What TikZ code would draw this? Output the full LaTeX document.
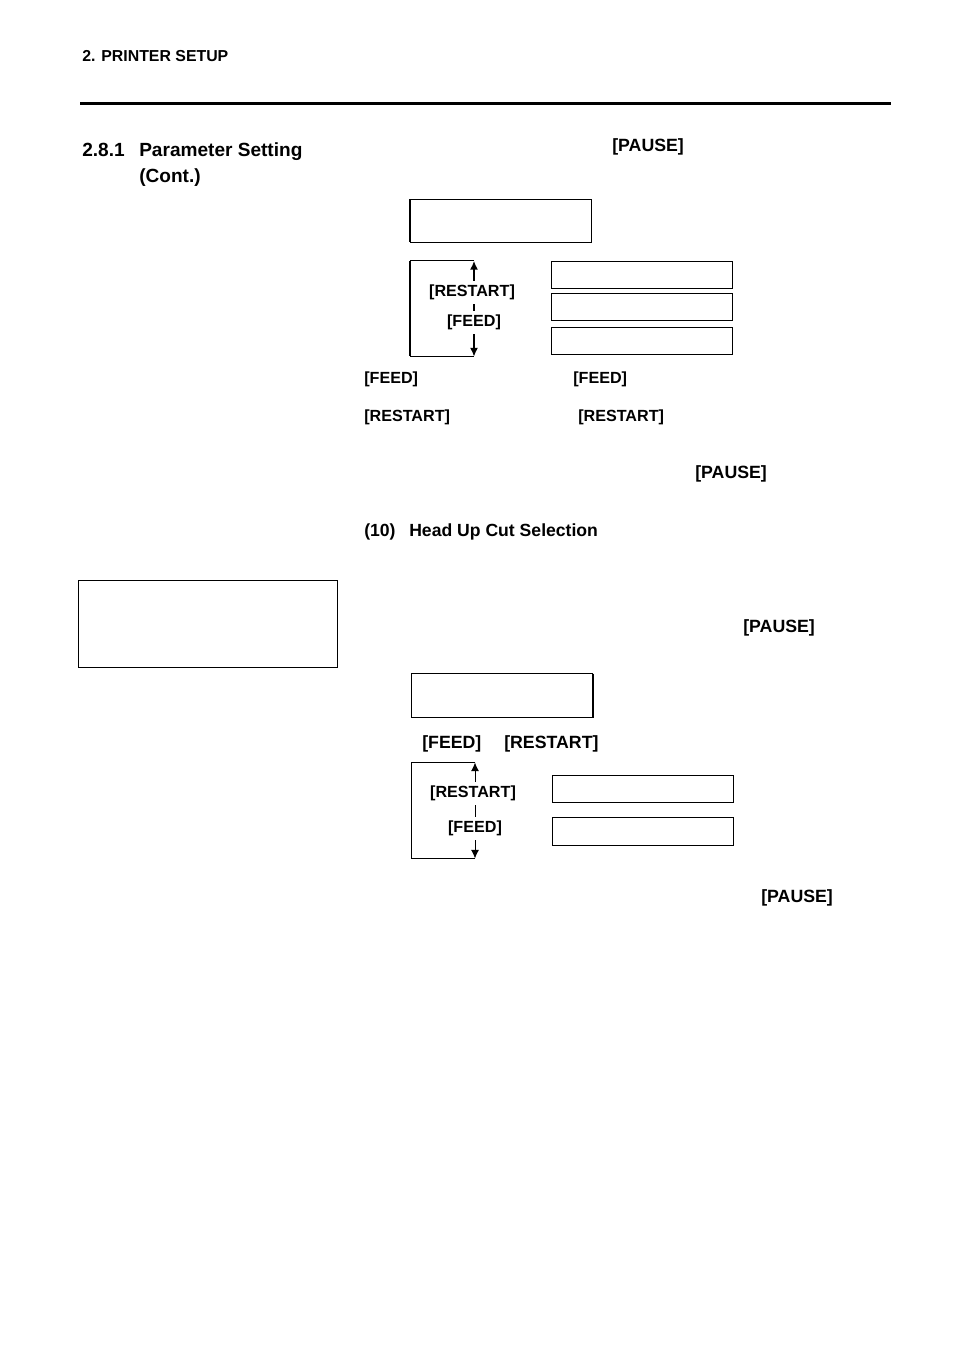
\documentclass[tikz,border=0pt]{standalone}
\usepackage{fontspec}
\usetikzlibrary{arrows.meta}
\setmainfont{Liberation Sans}
\begin{document}
\begin{tikzpicture}[x=0.75pt,y=-0.75pt,
    lcdbox/.style={draw,line width=0.75pt,outer sep=0pt,minimum width=136pt,minimum height=#1,inner sep=0pt,anchor=north west},
    lcdbox/.default=20pt,
    keytext/.style={font=\bfseries\fontsize{12.1}{14}\selectfont,anchor=base west,inner sep=0pt},
    steptext/.style={font=\bfseries\fontsize{13.3}{15}\selectfont,anchor=base west,inner sep=0pt},
    headtext/.style={font=\bfseries\fontsize{14.3}{16}\selectfont,anchor=base west,inner sep=0pt},
    looptext/.style={font=\bfseries\fontsize{12.1}{14}\selectfont,fill=white,inner sep=1pt,minimum height=17pt},
    looparrow/.style={-{Latex[length=6.5pt,width=6pt]}}]
    \useasboundingbox (0,0) rectangle (954,1351);
    \node [font=\bfseries\fontsize{11.9}{14}\selectfont,anchor=base west,inner sep=0pt] (chapter) at (82,62) {2. PRINTER SETUP};
    \coordinate (ruleL) at (80,103.5);
    \coordinate (ruleR) at (891,103.5);
    \draw [line width=2.7pt] (ruleL)--(ruleR);
    \node [headtext] (secnum) at (82,157) {2.8.1};
    \node [headtext] (sectitle) at (139,157) {Parameter Setting};
    \node [headtext] (seccont) at (139,183) {(Cont.)};
    \node [draw,line width=0.75pt,outer sep=0pt,minimum width=194pt,minimum height=65pt,inner sep=0pt,anchor=north west] (notebox) at (78.5,580.5) {};
    % first setting
    \node [steptext] (pauseA) at (612,152) {[PAUSE]};
    \node [lcdbox=32pt] (lcdA) at (410,199.5) {};
    \draw [line width=1.5pt] (lcdA.north west)--(lcdA.south west);
    \node [lcdbox] (optA) at (551.5,261.5) {};
    \node [lcdbox] (optB) at (551.5,293.5) {};
    \node [lcdbox] (optC) at (551.5,327.5) {};
    \coordinate (loopAtop) at (474,261);
    \coordinate (loopAbot) at (474,356.5);
    \coordinate (loopAmid) at (474,305);
    \draw [line width=0.75pt] (loopAtop)--(410,261);
    \draw [line width=1.5pt] (410,261)--(410,356.5);
    \draw [line width=0.75pt] (410,356.5)--(loopAbot);
    \draw [line width=1pt,looparrow] (loopAmid)--(loopAtop);
    \draw [line width=1pt,looparrow] (loopAmid)--(loopAbot);
    \node [looptext] (restartA) at (472,292.5) {[RESTART]};
    \node [looptext] (feedA) at (474,322.5) {[FEED]};
    \node [keytext] (feedB) at (364,383) {[FEED]};
    \node [keytext] (feedC) at (573,383) {[FEED]};
    \node [keytext] (restartB) at (364,421) {[RESTART]};
    \node [keytext] (restartC) at (578,421) {[RESTART]};
    \node [steptext] (pauseB) at (695,478) {[PAUSE]};
    % head up cut
    \node [font=\bfseries\fontsize{13.2}{15}\selectfont,anchor=base west,inner sep=0pt] (headnum) at (364,536) {(10)};
    \node [font=\bfseries\fontsize{13.2}{15}\selectfont,anchor=base west,inner sep=0pt] (headtitle) at (409,536) {Head Up Cut Selection};
    \node [steptext] (pauseC) at (743,632) {[PAUSE]};
    \node [lcdbox=33pt] (lcdB) at (411.5,673.5) {};
    \draw [line width=1.5pt] (lcdB.north east)--(lcdB.south east);
    \node [steptext] (feedD) at (422,748) {[FEED]};
    \node [steptext] (restartD) at (504,748) {[RESTART]};
    \node [lcdbox] (optD) at (552.5,775.5) {};
    \node [lcdbox=21pt] (optE) at (552.5,817.5) {};
    \coordinate (loopBtop) at (475,762.5);
    \coordinate (loopBbot) at (475,858.5);
    \coordinate (loopBmid) at (475,810);
    \draw [line width=0.75pt] (loopBtop)--(411.5,762.5)--(411.5,858.5)--(loopBbot);
    \draw [line width=0.7pt,looparrow] (loopBmid)--(loopBtop);
    \draw [line width=0.7pt,looparrow] (loopBmid)--(loopBbot);
    \node [looptext] (restartE) at (473,793.5) {[RESTART]};
    \node [looptext] (feedE) at (475,828.5) {[FEED]};
    \node [steptext] (pauseD) at (761,902) {[PAUSE]};
\end{tikzpicture}
\end{document}
